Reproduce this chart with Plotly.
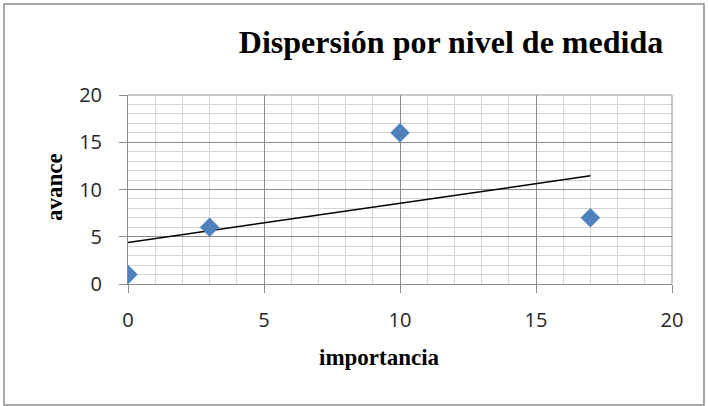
import plotly.graph_objects as go

importancia = [0, 3, 10, 17]
avance = [1, 6, 16, 7]
trend_x = [0, 17]
trend_y = [4.4, 11.45]
tick_vals = [0, 5, 10, 15, 20]
tick_text = ["0", "5", "10", "15", "20"]

L, R, T, B = 128, 36, 95, 122
W, H = 708, 406
pw, ph = W - L - R, H - T - B


def px(xp):
    return (xp - L) / pw


def py(yp):
    return (T + ph - yp) / ph


fig = go.Figure()
fig.add_trace(go.Scatter(x=trend_x, y=trend_y, mode="lines",
                         line=dict(color="black", width=1.5), showlegend=False, hoverinfo="skip"))
fig.add_trace(go.Scatter(x=importancia, y=avance, mode="markers",
                         marker=dict(symbol="diamond", size=15, color="#4F81BD"),
                         showlegend=False))

axis_common = dict(
    range=[0, 20], tickvals=tick_vals, ticktext=tick_text,
    showgrid=True, gridcolor="#8c8c8c", gridwidth=1,
    minor=dict(dtick=1, showgrid=True, gridcolor="#d4d4d4", gridwidth=1),
    showline=True, linecolor="#8c8c8c", linewidth=1,
    ticks="outside", ticklen=8, tickcolor="#8c8c8c",
    zeroline=False, mirror=False,
    tickfont=dict(family="Open Sans, Liberation Sans, sans-serif", size=20, color="#262626"),
)

fig.update_xaxes(**axis_common, ticklabelstandoff=10)
fig.update_yaxes(**axis_common, ticklabelstandoff=13)

title_font = dict(family="Liberation Serif", size=23, color="black")

fig.update_layout(
    width=W, height=H,
    margin=dict(l=L, r=R, t=T, b=B, autoexpand=False),
    paper_bgcolor="white", plot_bgcolor="white",
    title=dict(text="<b>Dispersión por nivel de medida</b>",
               font=dict(family="Liberation Serif", size=32, color="black"),
               xref="container", x=451 / W, xanchor="center",
               yref="container", y=1 - 42 / H, yanchor="middle"),
    annotations=[
        dict(text="<b>importancia</b>", xref="paper", yref="paper",
             x=px(379), y=py(357), xanchor="center", yanchor="middle",
             showarrow=False, font=title_font),
        dict(text="<b>avance</b>", xref="paper", yref="paper",
             x=px(54), y=py(187), xanchor="center", yanchor="middle",
             textangle=-90, showarrow=False, font=title_font),
    ],
    shapes=[
        dict(type="rect", xref="paper", yref="paper",
             x0=px(4), x1=px(704), y0=py(405), y1=py(4),
             line=dict(color="#8c8c8c", width=1.5), layer="below"),
        dict(type="line", xref="paper", yref="paper", x0=0, x1=1, y0=1, y1=1,
             line=dict(color="#8c8c8c", width=1)),
        dict(type="line", xref="paper", yref="paper", x0=1, x1=1, y0=0, y1=1,
             line=dict(color="#8c8c8c", width=1)),
    ],
)

fig.write_html("out.html", config={"displayModeBar": False},
               post_script="document.body.style.margin='0';document.body.style.padding='0';")
